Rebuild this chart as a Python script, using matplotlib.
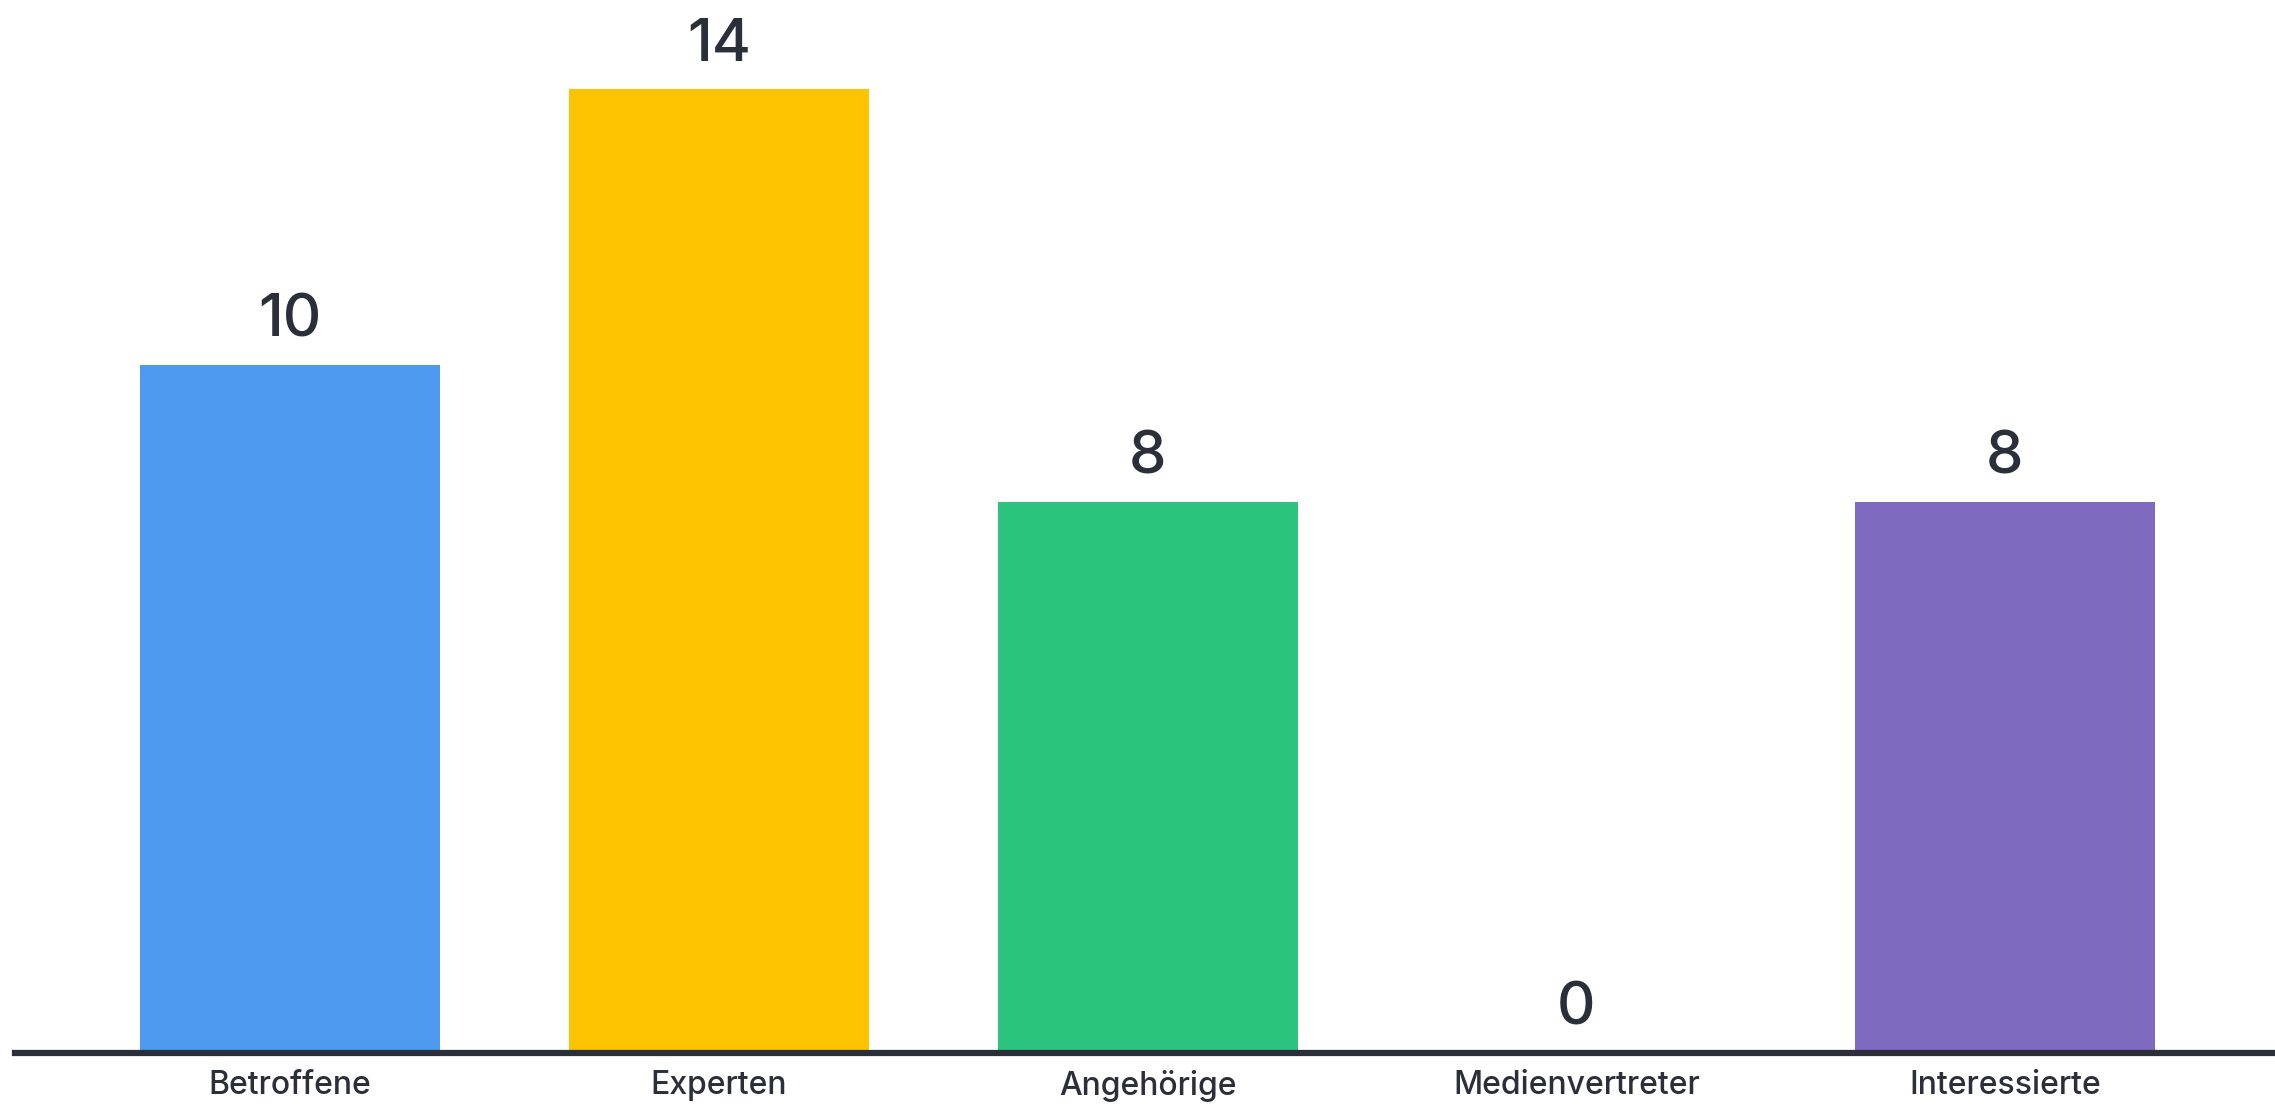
import matplotlib
matplotlib.use('Agg')
import matplotlib.pyplot as plt

# Daten
categories = ['Betroffene', 'Experten', 'Angehörige', 'Medienvertreter', 'Interessierte']
values = [10, 14, 8, 0, 8]
colors = ['#4e9af0', '#fdc300', '#2bc47f', '#ffffff', '#7e6bbf']

plt.rcParams['font.family'] = ['Inter', 'DejaVu Sans']
text_color = '#2b2f3a'

W, H = 2275, 1109
fig = plt.figure(figsize=(W / 100, H / 100), dpi=100)
ax = fig.add_axes([15 / W, 56 / H, 1 - 15 / W, 1 - 56 / H])

x = range(len(categories))
bars = ax.bar(x, values, width=0.70, color=colors, zorder=2)

# Werte über den Balken
for b, v in zip(bars, values):
    ax.annotate(str(v), (b.get_x() + b.get_width() / 2, v),
                xytext=(0, 12), textcoords='offset points',
                ha='center', va='bottom', fontsize=43, fontweight='medium',
                color=text_color)

ax.set_xlim(-0.642, 4.63)
ax.set_ylim(0, 15.3)
ax.set_xticks(list(x))
ax.set_xticklabels(categories, fontsize=23, fontweight='medium', color=text_color)
ax.tick_params(axis='x', length=0, pad=12)
ax.set_yticks([])

for s in ['top', 'right', 'left']:
    ax.spines[s].set_visible(False)
ax.spines['bottom'].set_linewidth(4.5)
ax.spines['bottom'].set_color(text_color)
ax.spines['bottom'].set_zorder(3)

fig.savefig('out.png', dpi=100)
